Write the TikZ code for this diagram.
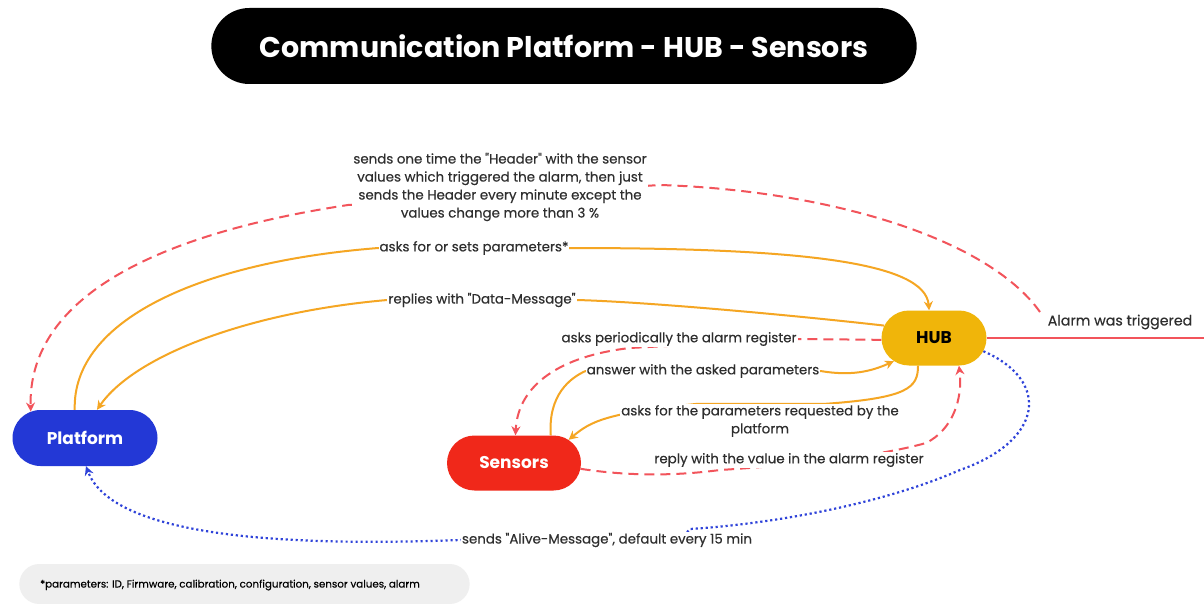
\documentclass[tikz,border=0pt]{standalone}
\usepackage{fontspec}
\setmainfont{Poppins}
\newfontfamily\lblfont{Poppins}[FakeBold=0.35]
\usetikzlibrary{arrows.meta,backgrounds,shapes.misc,calc}
\definecolor{platblue}{HTML}{2338D6}
\definecolor{sensred}{HTML}{F0281A}
\definecolor{hubyellow}{HTML}{F0B50A}
\definecolor{orangeline}{HTML}{F5A623}
\definecolor{reddash}{HTML}{F2545B}
\definecolor{bluedot}{HTML}{2F43D9}
\definecolor{textc}{HTML}{2E2E2E}
\definecolor{fngrey}{HTML}{EFEFEF}
\begin{document}
\begin{tikzpicture}[x=1pt,y=-1pt,
  box/.style={rounded rectangle, text=white, font=\fontsize{17}{20}\selectfont\bfseries, inner sep=0pt},
  lbl/.style={fill=white, text=textc, font=\lblfont\fontsize{13.4}{18}\selectfont, inner sep=1pt, align=center},
  orangeconn/.style={draw=orangeline, line width=2pt},
  redconn/.style={draw=reddash, line width=2pt, dash pattern=on 10pt off 6pt},
  blueconn/.style={draw=bluedot, line width=2.2pt, dash pattern=on 2.2pt off 2.8pt},
  tip/.style={-{Stealth[length=9pt,width=9pt]}}
]
\useasboundingbox (0,0) rectangle (1204,604);

% title
\node[rounded rectangle, fill=black, text=white, minimum width=712pt, minimum height=76pt,
      font=\fontsize{28.5}{32}\selectfont\bfseries] (title) at (564,46) {Communication Platform - HUB - Sensors};

% main boxes
\node[box, fill=platblue, minimum width=145pt, minimum height=56pt] (plat) at (85,438) {Platform};
\node[box, fill=sensred, minimum width=134pt, minimum height=55pt] (sens) at (514,463) {Sensors};
\node[box, fill=hubyellow, text=black, minimum width=105pt, minimum height=55pt] (hub) at (934,338) {HUB};

% labels
\node[lbl] (L1) at (500,187) {sends one time the "Header" with the sensor\\values which triggered the alarm, then just\\sends the Header every minute except the\\values change more than 3 \%};
\node[lbl] (L3) at (474,248) {asks for or sets parameters*};
\node[lbl] (L4) at (482,300) {replies with "Data-Message"};
\node[lbl] (L5) at (679,339) {asks periodically the alarm register};
\node[lbl] (L6) at (703,371) {answer with the asked parameters};
\node[lbl] (L7) at (760,421) {asks for the parameters requested by the\\platform};
\node[lbl] (L8) at (789,460) {reply with the value in the alarm register};
\node[lbl] (L9) at (607,540) {sends "Alive-Message", default every 15 min};
\node[text=textc, font=\lblfont\fontsize{14.2}{16}\selectfont, inner sep=0pt] (alarm) at (1120,322) {Alarm was triggered};
\coordinate (alarmpt) at (1040,312);
\coordinate (lineend) at (1204,338);

% footnote
\node[rounded rectangle, fill=fngrey, minimum width=457pt, minimum height=40pt] (fnbox) at (244.5,584) {};
\node[text=black, font=\lblfont\fontsize{10.3}{12}\selectfont, inner sep=0pt] (fn) at (230,585) {*parameters: ID, Firmware, calibration, configuration, sensor values, alarm};

\begin{scope}[on background layer]
  \fill[white] (0,0) rectangle (1204,604);
  % alarm line
  \draw[draw=reddash, line width=2pt] (hub.east) -- (lineend);
  % header red dashed
  \draw[redconn, tip] (alarmpt) .. controls (985,235) and (820,190) .. (660,185)
     -- (348,205) .. controls (150,235) and (28,300) .. (plat.154);
  % asks for or sets parameters
  \draw[orangeconn, tip] (plat.110) .. controls (72,320) and (200,262) .. (L3.west)
     -- (L3.east) .. controls (800,248) and (925,262) .. (hub.100);
  % replies with Data-Message
  \draw[orangeconn, tip] (hub.166) .. controls (800,316) and (650,302) .. (L4.east)
     -- (L4.west) .. controls (250,312) and (135,355) .. (plat.67);
  % asks periodically the alarm register
  \draw[redconn, tip] (hub.182) -- (L5.east) -- (630,348)
     .. controls (560,356) and (518,385) .. (sens.87);
  % answer with asked parameters
  \draw[orangeconn, tip] (sens.37) .. controls (548,395) and (570,378) .. (L6.west)
     -- (L6.east) .. controls (850,376) and (870,372) .. (hub.210);
  % asks for parameters requested by platform
  \draw[orangeconn, tip] (hub.240) .. controls (918,388) and (908,398) .. (L7.15)
     -- (L7.165) .. controls (605,413) and (590,422) .. (sens.23);
  % reply with value in alarm register
  \draw[redconn, tip] (sens.-5) .. controls (640,478) and (690,474) .. (720,470)
     .. controls (800,465) and (880,456) .. (926,443) .. controls (952,430) and (963,400) .. (hub.-48);
  % alive message
  \draw[blueconn, tip] (hub.-15) .. controls (1050,380) and (1045,440) .. (960,470)
     .. controls (880,505) and (770,524) .. (690,529) -- (680,540) -- (L9.west)
     .. controls (250,548) and (110,530) .. (plat.-88);
\end{scope}
\end{tikzpicture}
\end{document}
